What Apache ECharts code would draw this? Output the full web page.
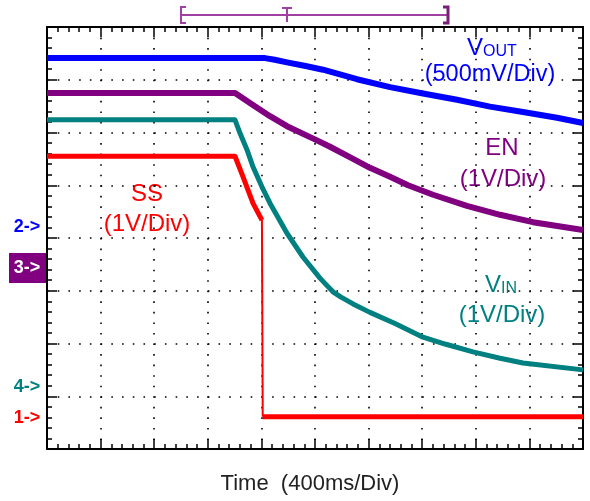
<!DOCTYPE html>
<html>
<head>
    <meta charset="UTF-8">
    <title>Power-down waveform</title>
    <style>
        body {
            margin: 0;
            background: #ffffff;
        }

        #scope {
            width: 590px;
            height: 501px;
        }
    </style>
    <script src="https://cdn.jsdelivr.net/npm/echarts@6/dist/echarts.min.js"></script>
</head>
<body>
<div id="scope"></div>
<script>
    // time in ms (400ms/div), values in screen divisions (0 = bottom, 8 = top)
    var voutTime = [0, 1627, 1700, 1791, 1930, 2060, 2313, 2560, 2806, 3060, 3306, 3552, 3806, 4000];
    var voutVal = [7.41, 7.41, 7.38, 7.33, 7.26, 7.19, 7.01, 6.86, 6.74, 6.62, 6.49, 6.39, 6.28, 6.18];

    var enTime = [0, 1403, 1537, 1664, 1791, 2007, 2112, 2284, 2410, 2560, 2694, 2881, 3134, 3381, 3627, 4000];
    var enVal = [6.75, 6.75, 6.52, 6.31, 6.12, 5.86, 5.73, 5.50, 5.33, 5.16, 5.00, 4.82, 4.61, 4.44, 4.30, 4.15];

    var vinTime = [0, 1403, 1440, 1493, 1537, 1604, 1664, 1791, 1910, 2037, 2074, 2134, 2194, 2284, 2410, 2597, 2806, 2970, 3179, 3381, 3552, 4000];
    var vinVal = [6.24, 6.24, 5.99, 5.67, 5.35, 4.97, 4.66, 4.09, 3.64, 3.24, 3.14, 2.98, 2.88, 2.75, 2.59, 2.38, 2.12, 1.99, 1.84, 1.72, 1.63, 1.50];

    var ssTime = [0, 1403, 1463, 1537, 1604, 1610, 4000];
    var ssVal = [5.55, 5.55, 5.16, 4.66, 4.34, 0.61, 0.61];

    function pairs(t, v, from, to) {
        var out = [];
        for (var i = from; i <= to; i++) {
            out.push([t[i], v[i]]);
        }
        return out;
    }

    function trace(data, color, width) {
        return {
            type: 'line',
            data: data,
            showSymbol: false,
            silent: true,
            lineStyle: {color: color, width: width, join: 'round'},
            clip: true
        };
    }

    var FONT = '"Liberation Sans", Arial, sans-serif';
    var tick = {show: true, inside: true, length: 10, lineStyle: {color: '#000', width: 1.5}};
    var minor = {show: true, splitNumber: 5, length: 5, lineStyle: {color: '#000', width: 1.5}};
    var border = {show: true, onZero: false, lineStyle: {color: '#000', width: 2}};

    function timeAxis(pos, grid) {
        return {
            type: 'value', position: pos, min: 0, max: 4000, interval: 400,
            axisLine: border, axisTick: tick, minorTick: minor,
            axisLabel: {show: false},
            splitLine: {show: grid, lineStyle: {color: '#000', width: 1.6, type: [1.6, 8.95]}}
        };
    }

    function divAxis(pos, grid) {
        return {
            type: 'value', position: pos, min: 0, max: 8, interval: 1,
            axisLine: border, axisTick: tick, minorTick: minor,
            axisLabel: {show: false},
            splitLine: {show: grid, lineStyle: {color: '#000', width: 1.6, type: [1.6, 9.12]}}
        };
    }

    function label(text, x, y, color, size, weight) {
        return {
            type: 'text', x: x, y: y, silent: true,
            style: {
                text: text, fill: color,
                font: (weight || 'normal') + ' ' + size + 'px ' + FONT,
                textAlign: 'center', textVerticalAlign: 'middle'
            }
        };
    }

    function subLabel(main, sub, x, y, color) {
        return {
            type: 'text', x: x, y: y, silent: true,
            style: {
                text: '{m|' + main + '}{s|' + sub + '}',
                textAlign: 'center', textVerticalAlign: 'middle',
                rich: {
                    m: {fontSize: 24, fontFamily: FONT, fill: color, color: color, verticalAlign: 'bottom'},
                    s: {fontSize: 16, fontFamily: FONT, fill: color, color: color, verticalAlign: 'bottom'}
                }
            }
        };
    }

    var trig = '#a040a0';

    var chart = echarts.init(document.getElementById('scope'), null, {renderer: 'canvas'});
    chart.setOption({
        animation: false,
        backgroundColor: '#ffffff',
        grid: {left: 47, top: 27, width: 536, height: 422},
        xAxis: [timeAxis('bottom', true), timeAxis('top', false)],
        yAxis: [divAxis('left', true), divAxis('right', false)],
        series: [
            trace(pairs(voutTime, voutVal, 0, voutTime.length - 1), '#0000ff', 6),
            trace(pairs(enTime, enVal, 0, enTime.length - 1), '#800080', 6),
            trace(pairs(vinTime, vinVal, 0, vinTime.length - 1), '#008080', 5),
            trace(pairs(ssTime, ssVal, 0, 4), '#ff0000', 5),
            trace(pairs(ssTime, ssVal, 4, 5), '#ff0000', 2),
            trace(pairs(ssTime, ssVal, 5, 6), '#ff0000', 5)
        ],
        graphic: [
            subLabel('V', 'OUT', 492, 48, '#0000ff'),
            label('(500mV/Div)', 490, 75, '#0000ff', 23.5),
            label('EN', 502, 148, '#800080', 24),
            label('(1V/Div)', 503, 179, '#800080', 24),
            label('SS', 147, 194, '#ff0000', 24),
            label('(1V/Div)', 147, 224, '#ff0000', 24),
            subLabel('V', 'IN', 501, 285, '#008080'),
            label('(1V/Div)', 502, 315, '#008080', 24),
            label('Time  (400ms/Div)', 310, 484, '#222222', 22),

            label('2->', 27, 227, '#0000ff', 18, 'bold'),
            {type: 'rect', shape: {x: 9, y: 253, width: 37, height: 30}, style: {fill: '#800080'}, silent: true},
            label('3->', 27, 268, '#ffffff', 18, 'bold'),
            label('4->', 27, 387, '#008080', 18, 'bold'),
            label('1->', 27, 418, '#ff0000', 18, 'bold'),

            {type: 'line', shape: {x1: 181, y1: 15, x2: 448, y2: 15}, style: {stroke: trig, lineWidth: 2}, silent: true},
            {type: 'polyline', shape: {points: [[186, 7], [181, 7], [181, 23], [186, 23]]}, style: {stroke: trig, lineWidth: 2, fill: null}, silent: true},
            {type: 'polyline', shape: {points: [[443, 7], [448, 7], [448, 23], [443, 23]]}, style: {stroke: '#7a1f7a', lineWidth: 3, fill: null}, silent: true},
            {type: 'line', shape: {x1: 282, y1: 8, x2: 292, y2: 8}, style: {stroke: trig, lineWidth: 2}, silent: true},
            {type: 'line', shape: {x1: 287, y1: 8, x2: 287, y2: 22}, style: {stroke: trig, lineWidth: 2}, silent: true}
        ]
    });
</script>
</body>
</html>
